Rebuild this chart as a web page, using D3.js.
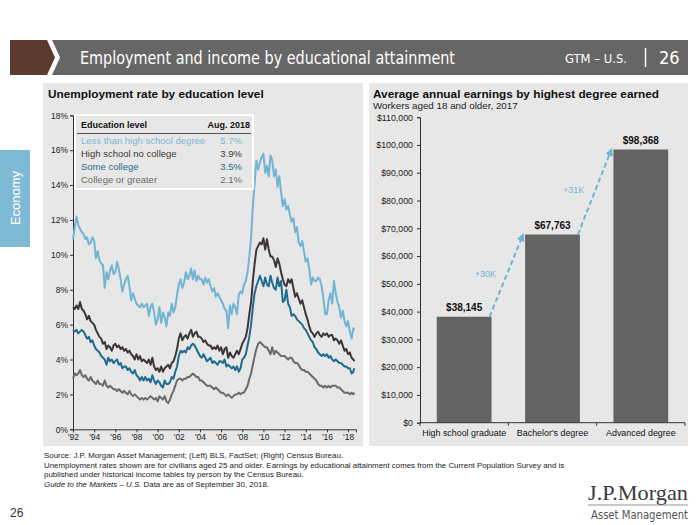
<!DOCTYPE html>
<html><head><meta charset="utf-8">
<script src="https://cdn.jsdelivr.net/npm/d3@7"></script>
<style>body{margin:0;background:#fff;} svg{display:block;font-family:"Liberation Sans",Arial,sans-serif;}</style>
</head><body><svg id="c" width="700" height="525"></svg>
<script>
// ---------- DATA ----------
// Unemployment rate (%), bimonthly Jan/Mar/May/Jul/Sep/Nov 1992-2017, 2018: Jan/Mar/May/Jul/Aug
const lessHS = [
10.9,11.6,12.2,11.7,11.5,11.3, 11.2,10.9,11.0,10.6,10.7,11.0, 10.8,9.8,10.2,9.7,9.5,9.4,
8.1,9.0,8.6,9.1,9.4,8.9, 9.0,9.6,9.2,8.6,7.9,8.3, 8.6,8.8,8.2,7.4,7.8,7.5,
7.2,7.1,7.0,7.2,7.0,7.1, 7.2,6.5,7.0,7.2,6.7,6.0, 6.3,7.0,6.1,6.7,6.4,5.9,
6.7,6.5,7.2,6.7,7.0,7.7, 8.3,8.6,8.1,8.4,9.0,8.6, 8.8,9.2,8.6,9.1,8.5,8.8,
8.6,8.6,8.3,8.7,8.4,8.6, 8.2,7.9,8.1,7.6,7.8,7.6, 7.4,7.2,6.9,6.8,5.8,7.1,
6.6,7.2,7.0,6.6,7.7,7.9, 7.8,8.3,8.5,9.0,9.9,11.0, 12.8,14.1,15.4,14.9,15.3,15.6,
15.8,14.7,15.1,14.5,15.7,15.4, 14.5,14.9,13.9,14.5,13.6,12.8, 13.2,12.6,12.8,12.3,11.9,12.1,
11.3,11.6,10.7,10.5,10.8,10.2, 9.6,9.8,9.2,8.3,8.7,8.5, 8.5,8.7,8.6,8.2,7.5,6.6,
6.6,7.4,7.8,7.2,8.5,7.8, 7.3,7.0,6.4,6.8,6.2,5.9, 6.2,5.6,5.2,5.8,5.7];
const hsNoCollege = [
7.0,6.9,7.1,6.9,7.3,6.9, 6.8,6.6,6.3,6.5,6.2,6.1, 6.0,5.7,5.5,5.3,5.2,4.9,
5.0,4.6,4.8,4.7,4.5,4.8, 4.9,4.7,4.8,4.6,4.7,4.5, 4.6,4.4,4.5,4.3,4.2,4.0,
4.3,4.0,4.2,3.9,4.0,3.9, 3.8,4.0,3.7,4.1,3.6,3.4, 3.5,3.3,3.6,3.3,3.5,3.6,
3.7,3.5,3.8,3.9,4.2,4.6, 5.2,5.5,5.1,5.3,5.4,5.2, 5.5,5.7,5.3,5.5,5.6,5.3,
5.3,5.2,5.0,5.1,4.9,4.8, 4.8,4.6,4.7,4.6,4.8,4.5, 4.7,4.3,4.6,4.7,4.1,4.4,
4.2,4.1,4.3,4.5,4.3,4.6, 4.9,5.1,5.3,5.8,6.6,7.3, 8.5,9.5,10.3,10.5,10.7,10.6,
10.95,10.3,10.9,10.3,9.9,9.9, 9.7,9.3,9.8,9.5,9.0,8.6, 8.3,8.2,8.6,8.4,8.6,8.1,
7.6,7.8,7.5,7.2,7.4,7.0, 6.6,6.3,5.9,5.6,5.5,5.3, 5.5,5.6,5.4,5.3,5.5,5.4,
5.5,5.3,5.4,5.4,5.1,5.2, 5.1,4.9,5.1,4.8,4.5,4.6, 4.3,4.4,4.1,4.0,3.9];
const someCollege = [
5.7,5.6,5.7,5.5,5.6,5.7, 5.6,5.4,5.2,5.3,5.0,5.1, 4.8,4.6,4.5,4.4,4.2,4.1,
4.0,3.7,4.1,3.9,4.0,3.8, 3.9,4.0,3.7,3.8,3.5,3.6, 3.6,3.4,3.5,3.3,3.2,3.4,
3.1,3.0,2.8,3.0,2.8,3.0, 2.8,2.9,2.7,3.1,2.8,2.6, 2.8,2.7,2.5,2.4,2.8,2.6,
2.6,2.7,3.0,2.9,3.3,3.6, 4.2,4.5,4.4,4.5,4.4,4.7, 4.6,4.8,4.9,4.8,4.6,4.4,
4.2,4.1,4.3,4.1,3.9,4.0, 4.1,3.8,3.9,3.8,3.7,3.9, 3.9,3.8,4.0,3.6,3.7,3.6,
3.5,3.6,3.4,3.6,3.3,3.5, 4.0,4.1,4.3,4.8,5.3,6.0, 7.0,7.8,8.2,8.5,8.8,8.5,
8.2,8.7,8.3,8.2,8.8,8.4, 8.1,8.0,8.7,8.2,8.5,7.3, 7.4,8.0,7.2,7.0,6.5,6.6,
6.5,6.3,6.2,6.1,6.0,5.8, 5.7,5.5,5.3,5.1,5.0,4.7, 4.6,4.4,4.3,4.2,4.3,4.2,
4.3,4.1,4.2,4.0,3.9,4.0, 3.9,3.8,3.8,3.7,3.6,3.6, 3.5,3.5,3.2,3.3,3.5];
const collegePlus = [
2.9,3.2,3.1,3.2,3.4,3.1, 3.0,3.1,2.9,2.8,3.0,2.8, 2.7,2.6,2.8,2.6,2.6,2.5,
2.8,2.5,2.4,2.5,2.4,2.3, 2.3,2.2,2.3,2.2,2.1,2.2, 2.1,2.0,2.2,2.0,1.9,2.0,
1.9,1.8,1.7,1.8,1.7,1.8, 1.7,1.8,1.9,1.8,1.7,1.8, 1.6,1.9,1.8,1.7,1.9,1.6,
1.5,1.7,2.0,2.2,2.5,2.8, 2.9,2.9,2.8,2.9,2.9,3.0, 3.0,3.1,3.2,3.1,3.0,3.0,
2.8,2.8,2.7,2.6,2.5,2.5, 2.5,2.4,2.3,2.4,2.3,2.2, 2.1,2.1,2.0,1.9,2.0,1.9,
1.8,1.9,2.0,2.0,2.1,2.0, 2.1,2.1,2.3,2.5,2.9,3.2, 3.7,4.2,4.6,4.9,5.0,4.9,
4.8,4.7,4.7,4.5,4.3,4.7, 4.3,4.5,4.4,4.3,4.2,4.2, 4.2,4.1,4.0,4.1,4.1,3.9,
3.8,3.8,3.7,3.5,3.4,3.4, 3.3,3.3,3.2,3.1,3.0,2.9, 2.8,2.6,2.5,2.5,2.4,2.5,
2.4,2.5,2.4,2.5,2.5,2.5, 2.4,2.4,2.3,2.2,2.1,2.1, 2.1,2.0,2.1,2.0,2.1];
const seriesNames = ["Less than high school degree","High school no college","Some college","College or greater"];
const seriesLatest = ["5.7%","3.9%","3.5%","2.1%"];
const yTicksLeft = [0,2,4,6,8,10,12,14,16,18];
const xTickYears = [1992,1994,1996,1998,2000,2002,2004,2006,2008,2010,2012,2014,2016,2018];

const degrees = ["High school graduate","Bachelor's degree","Advanced degree"];
const earnings = [38145, 67763, 98368];
const gains = ["+30K","+31K"];
const yTicksRight = [0,10000,20000,30000,40000,50000,60000,70000,80000,90000,100000,110000];

// ---------- SETUP ----------
const svg = d3.select("#c");
const colors = ["#72b4d3","#3d3636","#1f6b91","#6b6b6b"];
const legendColors = ["#7db9d6","#3d3636","#1f6b91","#6b6b6b"];

// Header
svg.append("polygon").attr("points","10,40 47,40 55,57.5 47,75 10,75").attr("fill","#5d3a2e");
svg.append("polygon").attr("points","52,40 688,40 688,75 52,75 60,57.5").attr("fill","#666666");
const narrow = '"Liberation Sans Narrow","DejaVu Sans Condensed","Roboto Condensed",sans-serif';
svg.append("text").attr("x",80).attr("y",63.5).attr("fill","#fff").attr("font-size",18)
  .attr("font-family",narrow).attr("textLength",375).attr("lengthAdjust","spacingAndGlyphs")
  .text("Employment and income by educational attainment");
svg.append("text").attr("x",565).attr("y",63).attr("fill","#fff").attr("font-size",13)
  .attr("font-family",narrow).attr("textLength",62).attr("lengthAdjust","spacingAndGlyphs").text("GTM – U.S.");
svg.append("line").attr("x1",645.5).attr("x2",645.5).attr("y1",48).attr("y2",67).attr("stroke","#fff").attr("stroke-width",1.5);
svg.append("text").attr("x",659).attr("y",64).attr("fill","#fff").attr("font-size",18)
  .attr("font-family",narrow).text("26");

// Sidebar
svg.append("rect").attr("x",0).attr("y",150).attr("width",30).attr("height",97).attr("fill","#7fbad4");
svg.append("text").attr("transform","translate(20,198) rotate(-90)").attr("text-anchor","middle")
  .attr("fill","#fff").attr("font-size",13).attr("font-family",'"Liberation Sans",Arial,sans-serif').text("Economy");

// Panels
svg.append("rect").attr("x",43).attr("y",83).attr("width",320).attr("height",363).attr("fill","#e7e7e7");
svg.append("rect").attr("x",369).attr("y",83).attr("width",319).attr("height",363).attr("fill","#e7e7e7");

// ---------- LEFT CHART ----------
svg.append("text").attr("x",48).attr("y",97.5).attr("font-size",11.8).attr("font-weight","bold").attr("fill","#111")
  .text("Unemployment rate by education level");

const xL = d3.scaleLinear().domain([1992, 2018.75]).range([73, 356]);
const yL = d3.scaleLinear().domain([0, 18]).range([429.3, 115.3]);
const tOf = i => i < 160 ? 1992 + i / 6 : 2018 + 7 / 12;

const gyL = svg.append("g").attr("transform","translate(73,0)")
  .call(d3.axisLeft(yL).tickValues(yTicksLeft).tickFormat(d => d + "%").tickSize(3).tickPadding(2));
const gxL = svg.append("g").attr("transform","translate(0,429.3)")
  .call(d3.axisBottom(xL).tickValues(xTickYears).tickFormat(d => "'" + String(d).slice(2)).tickSize(3).tickPadding(2));
[gyL,gxL].forEach(g => {
  g.select(".domain").attr("stroke","#333");
  g.selectAll(".tick line").attr("stroke","#333");
  g.selectAll(".tick text").attr("font-size",8.5).attr("fill","#222").attr("font-family",'"Liberation Sans",Arial,sans-serif');
});

const line = d3.line().x((d,i) => xL(tOf(i))).y(d => yL(d));
const allSeries = [lessHS, hsNoCollege, someCollege, collegePlus];
[3,2,1,0].forEach(k => {
  svg.append("path").datum(allSeries[k]).attr("d", line).attr("fill","none")
    .attr("stroke", colors[k]).attr("stroke-width", 2).attr("stroke-linejoin","round");
});

// Legend box
svg.append("rect").attr("x",75).attr("y",115).attr("width",178).attr("height",74)
  .attr("fill","#e7e7e7").attr("stroke","#fff").attr("stroke-width",2);
svg.append("text").attr("x",81).attr("y",128).attr("font-size",9).attr("font-weight","bold").attr("fill","#111").text("Education level");
svg.append("text").attr("x",250).attr("y",128).attr("text-anchor","end").attr("font-size",9).attr("font-weight","bold").attr("fill","#111").text("Aug. 2018");
svg.append("line").attr("x1",77).attr("x2",251).attr("y1",133.5).attr("y2",133.5).attr("stroke","#555").attr("stroke-width",1);
const legY = d3.scalePoint().domain(seriesNames).range([144.3, 182.7]);
seriesNames.forEach((n, k) => {
  svg.append("text").attr("x",81).attr("y",legY(n)).attr("font-size",9.5).attr("fill",legendColors[k]).text(n);
  svg.append("text").attr("x",242).attr("y",legY(n)).attr("text-anchor","end").attr("font-size",9.5).attr("fill",legendColors[k]).text(seriesLatest[k]);
});

// ---------- RIGHT CHART ----------
svg.append("text").attr("x",373).attr("y",97.5).attr("font-size",11.8).attr("font-weight","bold").attr("fill","#111")
  .text("Average annual earnings by highest degree earned");
svg.append("text").attr("x",373).attr("y",108.5).attr("font-size",9.8).attr("fill","#222")
  .text("Workers aged 18 and older, 2017");

const xR = d3.scaleBand().domain(degrees).range([420, 685]).paddingInner(0.38).paddingOuter(0.19);
const yR = d3.scaleLinear().domain([0, 110000]).range([422.7, 117.2]);

const gyR = svg.append("g").attr("transform","translate(420,0)")
  .call(d3.axisLeft(yR).tickValues(yTicksRight).tickFormat(d => "$" + d3.format(",")(d)).tickSize(3).tickPadding(4));
gyR.select(".domain").attr("stroke","#333");
gyR.selectAll(".tick line").attr("stroke","#333");
gyR.selectAll(".tick text").attr("font-size",8.8).attr("fill","#222");

svg.selectAll("rect.bar").data(earnings).enter().append("rect").attr("class","bar")
  .attr("x",(d,i) => xR(degrees[i])).attr("width", xR.bandwidth())
  .attr("y", d => yR(d)).attr("height", d => yR(0) - yR(d)).attr("fill","#636363");

// x axis for bars
svg.append("line").attr("x1",420).attr("x2",685).attr("y1",yR(0)).attr("y2",yR(0)).attr("stroke","#333");
d3.range(degrees.length + 1).forEach(i => {
  const x = 420 + i * (265 / 3);
  svg.append("line").attr("x1",x).attr("x2",x).attr("y1",yR(0)).attr("y2",yR(0)+3).attr("stroke","#333");
});
degrees.forEach(d => {
  svg.append("text").attr("x", xR(d) + xR.bandwidth()/2).attr("y",436).attr("text-anchor","middle")
    .attr("font-size",8.9).attr("fill","#111").text(d);
});
earnings.forEach((v,i) => {
  svg.append("text").attr("x", xR(degrees[i]) + xR.bandwidth()/2).attr("y", yR(v) - 6).attr("text-anchor","middle")
    .attr("font-size",10).attr("font-weight","bold").attr("fill","#111").text("$" + d3.format(",")(v));
});

// dashed arrows
const defs = svg.append("defs");
defs.append("marker").attr("id","ah").attr("viewBox","0 0 10 10").attr("refX",8).attr("refY",5)
  .attr("markerWidth",4).attr("markerHeight",4).attr("orient","auto")
  .append("path").attr("d","M0,0 L10,5 L0,10 z").attr("fill","#6fb3d6");
for (let i = 0; i < 2; i++) {
  const x1 = xR(degrees[i]) + xR.bandwidth() - 2, y1 = yR(earnings[i]);
  const x2 = xR(degrees[i+1]) - 2, y2 = yR(earnings[i+1]);
  svg.append("line").attr("x1",x1).attr("y1",y1).attr("x2",x2).attr("y2",y2)
    .attr("stroke","#6fb3d6").attr("stroke-width",2).attr("stroke-dasharray","5,3")
    .attr("marker-end","url(#ah)");
  svg.append("text").attr("x",(x1 + x2)/2 - 21).attr("y",(y1 + y2)/2 + 1).attr("text-anchor","middle")
    .attr("font-size",9).attr("fill","#6fb3d6").text(gains[i]);
}

// ---------- FOOTER ----------
const foot = svg.append("g").attr("font-size",7.9).attr("fill","#222");
foot.append("text").attr("x",44).attr("y",458).text("Source: J.P. Morgan Asset Management; (Left) BLS, FactSet; (Right) Census Bureau.");
foot.append("text").attr("x",44).attr("y",467.5).text("Unemployment rates shown are for civilians aged 25 and older. Earnings by educational attainment comes from the Current Population Survey and is");
foot.append("text").attr("x",44).attr("y",477).text("published under historical income tables by person by the Census Bureau.");
const g4 = foot.append("text").attr("x",44).attr("y",486.5);
g4.append("tspan").attr("font-style","italic").text("Guide to the Markets – U.S.");
g4.append("tspan").text(" Data are as of September 30, 2018.");

svg.append("text").attr("x",10).attr("y",517).attr("font-size",12).attr("fill","#333").text("26");
svg.append("text").attr("x",688).attr("y",500).attr("text-anchor","end").attr("font-size",22)
  .attr("font-family",'"Liberation Serif","DejaVu Serif",serif').attr("fill","#3a3a3a")
  .attr("textLength",100).attr("lengthAdjust","spacingAndGlyphs").text("J.P.Morgan");
svg.append("line").attr("x1",588).attr("x2",688).attr("y1",505).attr("y2",505).attr("stroke","#777").attr("stroke-width",0.8);
svg.append("text").attr("x",688).attr("y",519).attr("text-anchor","end").attr("font-size",12)
  .attr("font-family",narrow).attr("fill","#555").attr("textLength",97).attr("lengthAdjust","spacingAndGlyphs").text("Asset Management");
</script></body></html>
